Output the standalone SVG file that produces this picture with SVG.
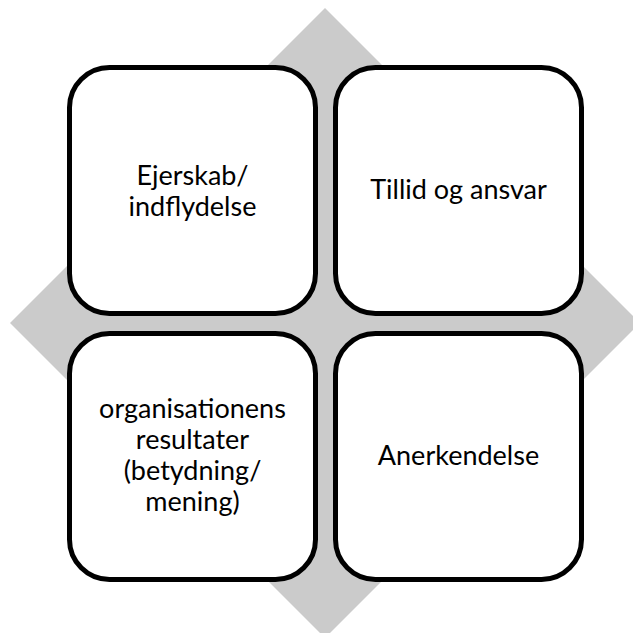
<svg xmlns="http://www.w3.org/2000/svg" width="633" height="633" viewBox="0 0 633 633">
<style>
.box{fill:#ffffff;stroke:#000000;stroke-width:5}
.lbl{font-family:Lato,"Open Sans","Liberation Sans",sans-serif;font-size:27px;fill:#000000;text-anchor:middle}
</style>
<rect width="633" height="633" fill="#ffffff"/>
<g id="background">
<polygon points="325,8 640,323 325,638 10,323" fill="#cbcbcb"/>
</g>
<g id="node-ejerskab">
<rect class="box" x="69.5" y="67.5" width="246" height="246" rx="40" ry="40"/>
<text class="lbl" x="192.5" y="185">Ejerskab/</text>
<text class="lbl" x="192.5" y="216">indflydelse</text>
</g>
<g id="node-tillid">
<rect class="box" x="335.5" y="67.5" width="246" height="246" rx="40" ry="40"/>
<text class="lbl" x="458.5" y="199">Tillid og ansvar</text>
</g>
<g id="node-organisationens">
<rect class="box" x="69.5" y="333.5" width="246" height="246" rx="40" ry="40"/>
<text class="lbl" x="192.5" y="418">organisationens</text>
<text class="lbl" x="192.5" y="449">resultater</text>
<text class="lbl" x="192.5" y="480">(betydning/</text>
<text class="lbl" x="192.5" y="511">mening)</text>
</g>
<g id="node-anerkendelse">
<rect class="box" x="335.5" y="333.5" width="246" height="246" rx="40" ry="40"/>
<text class="lbl" x="458.5" y="465">Anerkendelse</text>
</g>
</svg>
